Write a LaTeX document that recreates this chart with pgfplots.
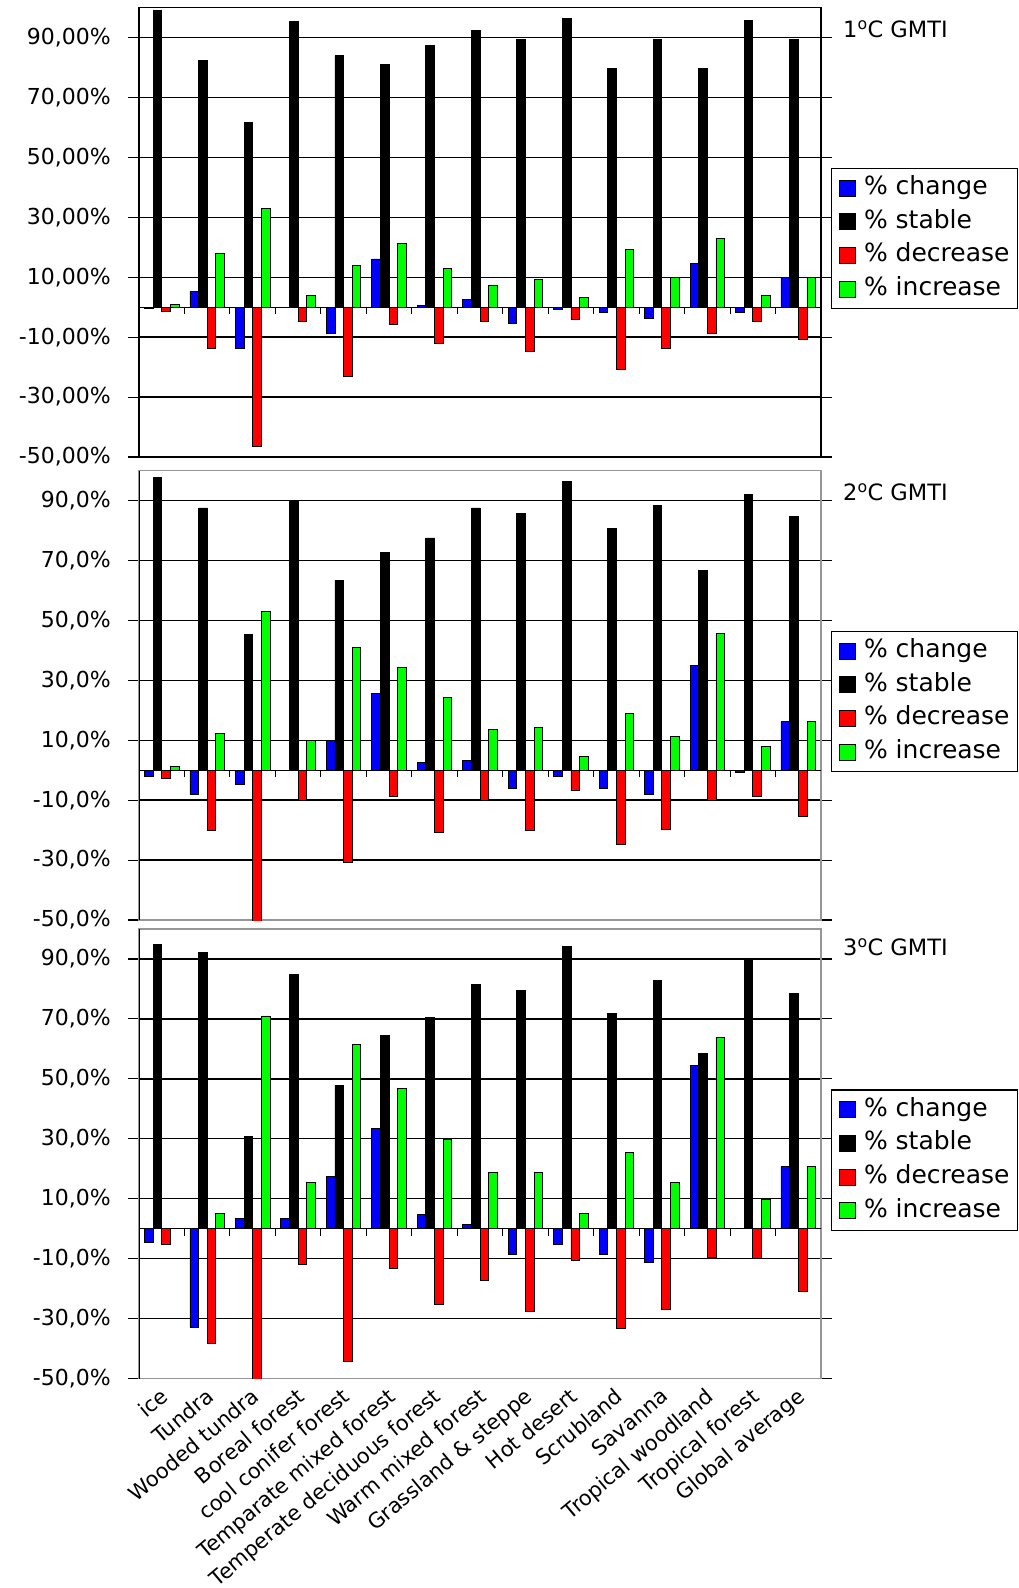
\documentclass[border=0pt]{standalone}
\usepackage{fontspec}
\setmainfont{DejaVu Sans}
\usepackage{pgfplots}
\pgfplotsset{compat=1.18}
\usepackage{pgfplotstable}

\definecolor{xlblue}{RGB}{0,0,255}
\definecolor{xlred}{RGB}{255,0,0}
\definecolor{xlgreen}{RGB}{0,255,0}
\definecolor{bordergray}{RGB}{150,150,150}

% idx change stable decrease increase
\pgfplotstableread{
idx change stable decrease increase
0 -0.3 98.9 -1.4 0.8
1 5.3 82.4 -13.6 18.1
2 -13.6 61.7 -46.3 32.8
3 0 95.2 -4.8 4.0
4 -8.9 83.9 -23.0 13.9
5 16.1 81.1 -5.6 21.3
6 0.5 87.2 -12.2 12.8
7 2.6 92.4 -4.8 7.4
8 -5.3 89.4 -14.8 9.4
9 -0.8 96.4 -4.2 3.3
10 -1.7 79.7 -20.9 19.4
11 -3.6 89.4 -13.6 9.8
12 14.7 79.7 -8.9 22.8
13 -1.7 95.8 -4.8 4.0
14 9.8 89.4 -10.9 9.8
}\dataone

\pgfplotstableread{
idx change stable decrease increase
0 -2.0 97.7 -2.8 1.3
1 -8.1 87.5 -20.2 12.2
2 -4.8 45.2 -57.8 53.0
3 0 90.0 -10.0 10.0
4 10.0 63.3 -30.8 41.0
5 25.6 72.8 -8.9 34.3
6 2.7 77.5 -20.8 24.2
7 3.3 87.5 -10.0 13.5
8 -6.1 85.6 -20.2 14.2
9 -2.0 96.2 -6.8 4.7
10 -6.1 80.8 -24.9 18.9
11 -8.1 88.2 -19.6 11.4
12 35.0 66.6 -10.2 45.6
13 -0.7 92.1 -8.9 8.0
14 16.2 84.8 -15.4 16.2
}\datatwo

\pgfplotstableread{
idx change stable decrease increase
0 -4.7 94.8 -5.4 0
1 -32.9 92.2 -38.2 5.2
2 3.3 30.9 -67.7 71.0
3 3.3 84.7 -12.0 15.3
4 17.5 47.7 -44.3 61.6
5 33.4 64.5 -13.4 46.8
6 4.7 70.6 -25.4 29.9
7 1.3 81.4 -17.3 18.7
8 -8.7 79.4 -27.5 18.7
9 -5.4 94.2 -10.6 5.2
10 -8.7 71.9 -33.4 25.4
11 -11.4 82.7 -26.8 15.4
12 54.4 58.5 -9.7 63.8
13 0 89.7 -9.8 9.7
14 20.8 78.6 -20.8 20.8
}\datathree

\pgfplotsset{
  panel/.style={
    scale only axis, width=682pt, height=449.5pt,
    anchor=north west,
    xmin=-0.5, xmax=14.5, ymin=-50, ymax=100,
    ytick={-50,-30,-10,10,30,50,70,90},
    ymajorgrids,
    major grid style={black, line width=1.3pt},
    extra y ticks={0}, extra y tick labels={},
    extra y tick style={grid=major, major tick length=0pt},
    xtick=\empty,
    tick align=outside, major tick length=11pt,
    ytick style={black, line width=1.1pt},
    axis line style={line width=1.3pt},
    /pgf/number format/assume math mode=true,
    yticklabel style={font=\fontsize{22}{26}\selectfont, inner sep=0pt, xshift=-17pt},
    ybar, bar width=0.19,
    every axis plot/.append style={draw=black, line width=0.8pt},
    legend style={at={(1.0147,0.643)}, anchor=north west,
      draw=black, line width=1.2pt, fill=white,
      font=\fontsize{25}{30}\selectfont,
      inner xsep=7pt, inner ysep=6pt, row sep=6.7pt,
      nodes={inner sep=1pt, text height=19pt, text depth=6pt},
      legend cell align=left},
    legend image code/.code={\draw[#1, draw=black, line width=0.8pt] (0pt,-8pt) rectangle (16pt,8pt);
      \path[draw=none, fill=none] (0pt,0pt) -- (24pt,0pt);},
  },
}

\newcommand{\bars}[1]{%
  \addplot[fill=xlblue, bar shift=-0.285] table[x=idx, y=change] {#1};
  \addplot[fill=black, bar shift=-0.095] table[x=idx, y=stable] {#1};
  \addplot[fill=xlred, bar shift=0.095] table[x=idx, y=decrease] {#1};
  \addplot[fill=xlgreen, bar shift=0.285] table[x=idx, y=increase] {#1};
  \legend{\% change, \% stable, \% decrease, \% increase}
  \pgfplotsinvokeforeach{0.5,1.5,2.5,3.5,4.5,5.5,6.5,7.5,8.5,9.5,10.5,11.5,12.5,13.5}{
      \draw[black, line width=1.1pt] (axis cs:##1,0) -- ++(0pt,-7pt);}
}

\begin{document}
\begin{tikzpicture}
% Panel 1
\begin{axis}[panel, at={(139pt,-7.5pt)},
  yticklabels={{-50,00\%},{-30,00\%},{-10,00\%},{10,00\%},{30,00\%},{50,00\%},{70,00\%},{90,00\%}}]
\bars{\dataone}
\end{axis}
% Panel 2
\begin{axis}[panel, at={(139pt,-470.5pt)}, axis line style={draw=bordergray, line width=1.3pt},
  yticklabels={{-50,0\%},{-30,0\%},{-10,0\%},{10,0\%},{30,0\%},{50,0\%},{70,0\%},{90,0\%}}]
\bars{\datatwo}
\draw[black, line width=1.3pt] (rel axis cs:0,0) -- (rel axis cs:0,1);
\end{axis}
% Panel 3
\begin{axis}[panel, at={(139pt,-929pt)}, axis line style={draw=bordergray, line width=1.3pt},
  yticklabels={{-50,0\%},{-30,0\%},{-10,0\%},{10,0\%},{30,0\%},{50,0\%},{70,0\%},{90,0\%}},
  xtick={0,1,2,3,4,5,6,7,8,9,10,11,12,13,14},
  xtick style={draw=none},
  xticklabels={ice, Tundra, Wooded tundra, Boreal forest, cool conifer forest, Temparate mixed forest, Temperate deciduous forest, Warm mixed forest, Grassland \& steppe, Hot desert, Scrubland, Savanna, Tropical woodland, Tropical forest, Global average},
  xticklabel style={font=\fontsize{21}{25}\selectfont, rotate=40, anchor=north east, inner sep=0pt, yshift=4pt}]
\bars{\datathree}
\draw[black, line width=1.3pt] (rel axis cs:0,0) -- (rel axis cs:0,1);
\end{axis}
% Titles
\node[anchor=base west, inner sep=0pt, font=\fontsize{22.5}{26}\selectfont] at (843pt,-37.3pt) {1\textsuperscript{o}C GMTI};
\node[anchor=base west, inner sep=0pt, font=\fontsize{22.5}{26}\selectfont] at (843pt,-500pt) {2\textsuperscript{o}C GMTI};
\node[anchor=base west, inner sep=0pt, font=\fontsize{22.5}{26}\selectfont] at (843pt,-955pt) {3\textsuperscript{o}C GMTI};
\pgfresetboundingbox
\path[use as bounding box] (0pt,0pt) rectangle (1019pt,-1588pt);
\end{tikzpicture}
\end{document}
